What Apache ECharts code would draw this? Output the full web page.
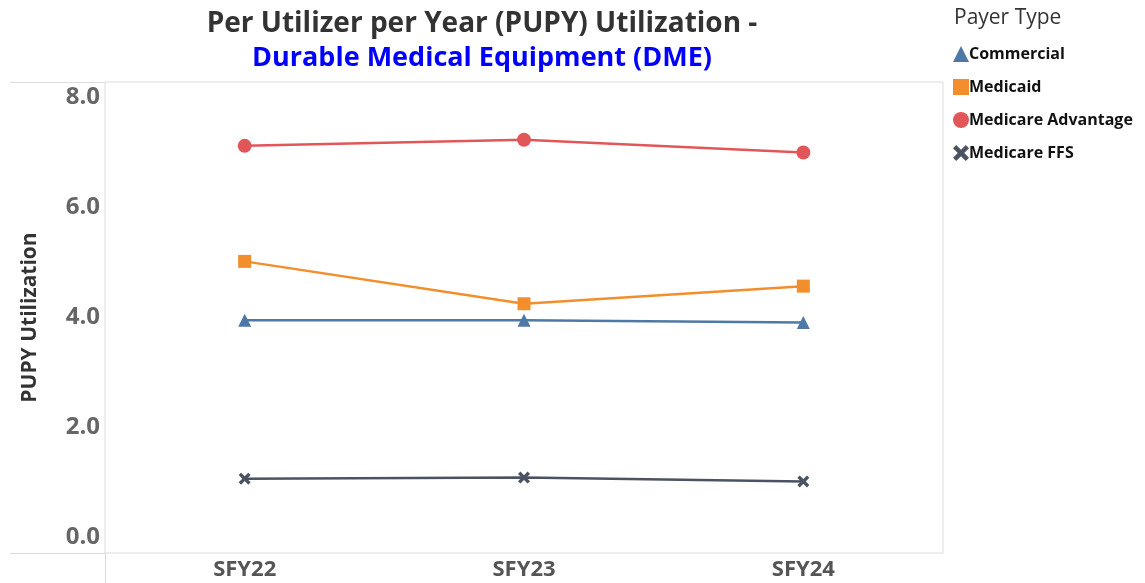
<!DOCTYPE html>
<html>
<head>
<meta charset="utf-8">
<script src="https://cdn.jsdelivr.net/npm/echarts@6/dist/echarts.min.js"></script>
<style>
html, body { margin: 0; padding: 0; background: #fff; }
#main { width: 1145px; height: 583px; }
</style>
</head>
<body>
<div id="main"></div>
<script>
var dom = document.getElementById("main");
var myChart = echarts.init(dom);

// data
var categories = ['SFY22', 'SFY23', 'SFY24'];
var seriesNames = ['Commercial', 'Medicaid', 'Medicare Advantage', 'Medicare FFS'];
var commercial = [3.95, 3.95, 3.91];
var medicaid = [5.02, 4.25, 4.57];
var medicareAdvantage = [7.12, 7.23, 7.0];
var medicareFFS = [1.07, 1.09, 1.02];
var yTicks = [0, 2, 4, 6, 8];

var colors = ['#4e79a7', '#f28e2b', '#e15759', '#4b5363'];
var crossPath = 'path://M2,0 L5,3 L8,0 L10,2 L7,5 L10,8 L8,10 L5,7 L2,10 L0,8 L3,5 L0,2 Z';
var symbols = ['triangle', 'rect', 'circle', crossPath];
var symbolSizes = [13, 13, 14, 12];
var values = [commercial, medicaid, medicareAdvantage, medicareFFS];

var font = '"Open Sans", Lato, sans-serif';

var series = [];
seriesNames.forEach(function (name, i) {
    series.push({
        name: name,
        type: 'line',
        data: values[i],
        symbol: symbols[i],
        symbolSize: symbolSizes[i],
        showSymbol: true,
        lineStyle: { width: 2.5, color: colors[i] },
        itemStyle: { color: colors[i] },
        z: 10 - i
    });
});

var option = {
    animation: false,
    color: colors,
    title: [{
        text: 'Per Utilizer per Year (PUPY) Utilization -',
        left: 477,
        top: 5,
        textAlign: 'center',
        textStyle: { fontFamily: font, fontSize: 28, fontWeight: 'bold', color: '#333' }
    }, {
        text: 'Durable Medical Equipment (DME)',
        left: 477,
        top: 40,
        textAlign: 'center',
        textStyle: { fontFamily: font, fontSize: 27, fontWeight: 'bold', color: '#0000ff' }
    }, {
        text: 'Payer Type',
        left: 949,
        top: 3,
        textStyle: { fontFamily: font, fontSize: 21, fontWeight: 'normal', color: '#333' }
    }],
    legend: {
        orient: 'vertical',
        left: 948,
        top: 41,
        itemGap: 17,
        itemWidth: 16,
        itemHeight: 16,
        data: seriesNames.map(function (n, i) {
            return { name: n, icon: symbols[i] };
        }),
        textStyle: { fontFamily: font, fontSize: 16, fontWeight: 'bold', color: '#111', padding: [0, 0, 0, -5] }
    },
    grid: {
        left: 105,
        right: 202,
        top: 82,
        bottom: 30,
        show: true,
        borderColor: '#dcdcdc',
        borderWidth: 1
    },
    xAxis: {
        type: 'category',
        data: categories,
        boundaryGap: true,
        axisLine: { show: false },
        axisTick: { show: false },
        axisLabel: { fontFamily: font, fontSize: 22, fontWeight: 'bold', color: '#555', margin: 6 }
    },
    yAxis: {
        type: 'value',
        min: -0.28,
        max: 8.28,
        name: 'PUPY Utilization',
        nameLocation: 'middle',
        nameGap: 64,
        nameTextStyle: { fontFamily: font, fontSize: 21, fontWeight: 'bold', color: '#333' },
        splitLine: { show: false },
        axisLine: { show: false },
        axisTick: { show: false },
        axisLabel: {
            customValues: yTicks,
            formatter: function (v) { return v.toFixed(1); },
            fontFamily: font, fontSize: 24, fontWeight: 'bold', color: '#666', margin: 5
        }
    },
    graphic: [
        { type: 'line', shape: { x1: 10, y1: 82.5, x2: 105, y2: 82.5 }, style: { stroke: '#dcdcdc', lineWidth: 1 } },
        { type: 'line', shape: { x1: 10, y1: 553.5, x2: 105, y2: 553.5 }, style: { stroke: '#dcdcdc', lineWidth: 1 } },
        { type: 'line', shape: { x1: 105.5, y1: 553, x2: 105.5, y2: 583 }, style: { stroke: '#dcdcdc', lineWidth: 1 } }
    ],
    series: series
};

myChart.setOption(option, true);
window.addEventListener("resize", function () {
    myChart.resize();
});
</script>
</body>
</html>
